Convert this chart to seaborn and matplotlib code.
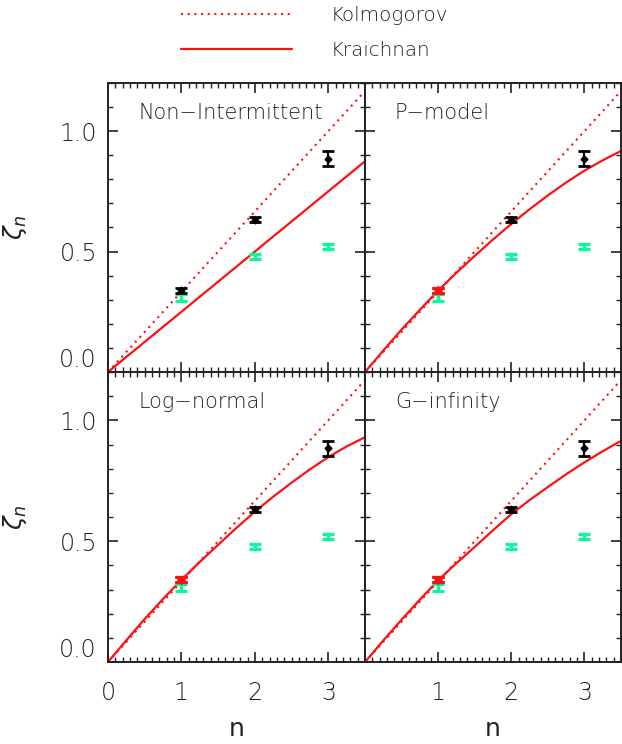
import matplotlib
matplotlib.use("Agg")
import matplotlib.pyplot as plt
from matplotlib.lines import Line2D
from matplotlib.ticker import MultipleLocator, FixedLocator, FixedFormatter
import seaborn as sns

sns.set_style("ticks")
plt.rcParams["font.family"] = ["DejaVu Sans"]
plt.rcParams["font.weight"] = "light"
plt.rcParams["mathtext.fontset"] = "dejavusans"

# ---- data -------------------------------------------------------------
orders = [1, 2, 3]
zeta_black = [0.340, 0.632, 0.885]
err_black = [0.010, 0.010, 0.031]
zeta_green = [0.308, 0.479, 0.521]
err_green = [0.014, 0.011, 0.010]

# straight-line scalings
n_line = [0.0, 3.5]
kolmogorov = [0.0, 1.1667]
kraichnan = [0.0, 0.875]

# intermittency model curves
n_curve = [0.0, 0.25, 0.5, 0.75, 1.0, 1.25, 1.5, 1.75, 2.0,
           2.25, 2.5, 2.75, 3.0, 3.25, 3.5]
p_model = [0.0, 0.089, 0.176, 0.258, 0.338, 0.412, 0.482, 0.550, 0.615,
           0.676, 0.733, 0.787, 0.836, 0.879, 0.918]
log_normal = [0.0, 0.090, 0.178, 0.261, 0.340, 0.414, 0.485, 0.555, 0.622,
              0.684, 0.742, 0.797, 0.848, 0.892, 0.930]
g_infinity = [0.0, 0.089, 0.175, 0.258, 0.338, 0.409, 0.476, 0.545, 0.612,
              0.670, 0.724, 0.777, 0.826, 0.872, 0.915]

panels = [
    ("Non\u2212Intermittent", n_line, kraichnan, False),
    ("P\u2212model", n_curve, p_model, True),
    ("Log\u2212normal", n_curve, log_normal, True),
    ("G\u2212infinity", n_curve, g_infinity, True),
]

RED = "#ff1010"
GREEN = "#10f5a0"
TXT = "#222222"
AX = "#222222"

W, H = 622, 744
fig = plt.figure(figsize=(W / 100, H / 100), dpi=100)

x_l, x_m, x_r = 108, 365, 621
y_t, y_m, y_b = 83, 372, 662
boxes = [
    (x_l, y_t, x_m, y_m), (x_m, y_t, x_r, y_m),
    (x_l, y_m, x_m, y_b), (x_m, y_m, x_r, y_b),
]

axes = []
for i, ((title, xc, yc, model), (l, t, r, b)) in enumerate(zip(panels, boxes)):
    ax = fig.add_axes([l / W, 1 - b / H, (r - l) / W, (b - t) / H])
    axes.append(ax)
    ax.set_xlim(0, 3.5)
    ax.set_ylim(0, 1.2)

    sns.lineplot(x=n_line, y=kolmogorov, ax=ax, color=RED, lw=1.5,
                 linestyle=(0, (1, 2.2)), legend=False)
    sns.lineplot(x=xc, y=yc, ax=ax, color=RED, lw=1.6, legend=False,
                 sort=False)

    ax.errorbar(orders, zeta_green, yerr=err_green, fmt="none", ecolor=GREEN,
                elinewidth=2.4, capsize=4.5, capthick=2.4, zorder=3)
    ax.errorbar(orders, zeta_black, yerr=err_black, fmt="D", color="black",
                ms=3.5, elinewidth=1.6, capsize=4.5, capthick=2.0, zorder=4)
    if model:
        ax.errorbar(orders[:1], zeta_black[:1], yerr=err_black[:1], fmt="D",
                    color=RED, ms=3.5, elinewidth=2.0, capsize=4.5,
                    capthick=2.4, zorder=5)

    ax.text(0.117, 0.897, title, transform=ax.transAxes, fontsize=15,
            color=TXT, va="center", ha="left")

    ax.xaxis.set_major_locator(FixedLocator([0, 1, 2, 3]))
    ax.xaxis.set_minor_locator(MultipleLocator(0.1))
    ax.yaxis.set_major_locator(FixedLocator([0.0, 0.5, 1.0]))
    ax.yaxis.set_minor_locator(MultipleLocator(0.1))
    ax.tick_params(which="both", direction="in", top=True, right=True,
                   color=AX, labelcolor=TXT, labelsize=17)
    ax.tick_params(which="major", length=7, width=1.2)
    ax.tick_params(which="minor", length=3.5, width=1.0)
    ax.tick_params(axis="y", pad=8)
    ax.tick_params(axis="x", pad=14)
    for s in ax.spines.values():
        s.set_color(AX)
        s.set_linewidth(1.4)

    if i % 2 == 0:
        ax.yaxis.set_major_formatter(FixedFormatter(["0.0", "0.5", "1.0"]))
        ax.set_ylabel(r"$\zeta_n$", fontsize=18, color=TXT, labelpad=22)
        ax.get_yticklabels()[0].set_va("bottom")
    else:
        ax.set_yticklabels([])
    if i >= 2:
        if i == 2:
            ax.xaxis.set_major_formatter(FixedFormatter(["0", "1", "2", "3"]))
        else:
            ax.xaxis.set_major_formatter(FixedFormatter(["", "1", "2", "3"]))
        ax.set_xlabel("n", fontsize=18, color=TXT, labelpad=8)
    else:
        ax.set_xticklabels([])

handles = [
    Line2D([], [], color=RED, lw=1.5, linestyle=(0, (1, 2.2))),
    Line2D([], [], color=RED, lw=1.6),
]
fig.legend(handles, ["Kolmogorov", "Kraichnan"], loc="center left",
           bbox_to_anchor=(181 / W, 1 - 33 / H), frameon=False,
           fontsize=14.3, handlelength=5.6, handletextpad=1.95,
           labelspacing=0.85, borderpad=0, borderaxespad=0,
           labelcolor=TXT)

fig.savefig("out.png", dpi=100)
